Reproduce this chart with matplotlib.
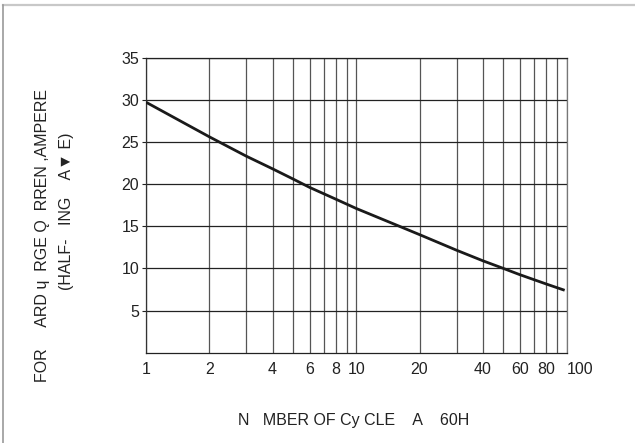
import matplotlib.pyplot as plt
import matplotlib.lines as mlines
import numpy as np

plt.rcParams['font.family'] = ['Liberation Sans', 'DejaVu Sans']

# values
cycles = [1, 1.5, 2, 3, 4, 5, 6, 8, 10, 16, 20, 30, 40, 50, 60, 80, 98]
current = [29.7, 27.3, 25.6, 23.3, 21.8, 20.6, 19.6, 18.2, 17.1, 15.0, 14.0,
           12.15, 10.9, 10.0, 9.25, 8.15, 7.4]

x_grid = [1, 2, 3, 4, 5, 6, 7, 8, 9, 10, 20, 30, 40, 50, 60, 70, 80, 90, 100]
x_ticks = [1, 2, 4, 6, 8, 10, 20, 40, 60, 80, 100]
y_ticks = [5, 10, 15, 20, 25, 30, 35]

fig = plt.figure(figsize=(6.35, 4.43), dpi=100)
ax = fig.add_axes([146/635, 1 - 352.7/443, (566.5 - 146)/635, (352.7 - 57.5)/443])

ax.set_xscale('log')
ax.set_xlim(1, 100)
ax.set_ylim(0, 35)

for xv in x_grid:
    ax.axvline(xv, color='#555555', lw=0.9, zorder=1)
for yv in y_ticks:
    ax.axhline(yv, color='#222222', lw=0.9, zorder=1)

ax.plot(cycles, current, color='#1a1a1a', lw=2.0, zorder=3,
        solid_capstyle='butt', solid_joinstyle='round')

ax.set_xticks(x_ticks)
ax.set_xticklabels([str(v) for v in x_ticks])
ax.xaxis.set_minor_locator(plt.NullLocator())
ax.set_yticks(y_ticks)
ax.set_yticklabels([str(v) for v in y_ticks])
ax.tick_params(axis='x', length=0, pad=7, labelsize=11.5, colors='#222222')
ax.tick_params(axis='y', length=3, width=0.8, pad=2, labelsize=11.5,
               colors='#222222')
# the last label sits to the right of its grid line
ax.get_xticklabels()[-1].set_horizontalalignment('left')

for side in ['left', 'bottom', 'top', 'right']:
    ax.spines[side].set_linewidth(0.9)
ax.spines['left'].set_color('#333333')
ax.spines['bottom'].set_color('#222222')
ax.spines['top'].set_color('#222222')
ax.spines['right'].set_color('#777777')

# axis titles (as printed, with the missing glyphs)
fig.text(43/635, 1 - 236/443, 'FOR     ARD \u0265  RGE \u01ea  RREN ,AMPERE',
         rotation=90, ha='center', va='center', fontsize=11.5, color='#222222')
fig.text(67/635, 1 - 211/443, '(HALF-   ING    A\u25bc E)',
         rotation=90, ha='center', va='center', fontsize=11.5, color='#222222')
fig.text(354/635, 1 - 420/443, 'N   MBER OF Cy CLE    A    60H',
         ha='center', va='center', fontsize=11.5, color='#222222')

# light page frame at top and left
fig.add_artist(mlines.Line2D([2.5/635, 1], [1 - 4.5/443, 1 - 4.5/443],
                             transform=fig.transFigure, color='#c8c8c8', lw=1.6))
fig.add_artist(mlines.Line2D([2.5/635, 2.5/635], [0, 1 - 4.5/443],
                             transform=fig.transFigure, color='#999999', lw=1.2))

fig.savefig('out.png', dpi=100)
